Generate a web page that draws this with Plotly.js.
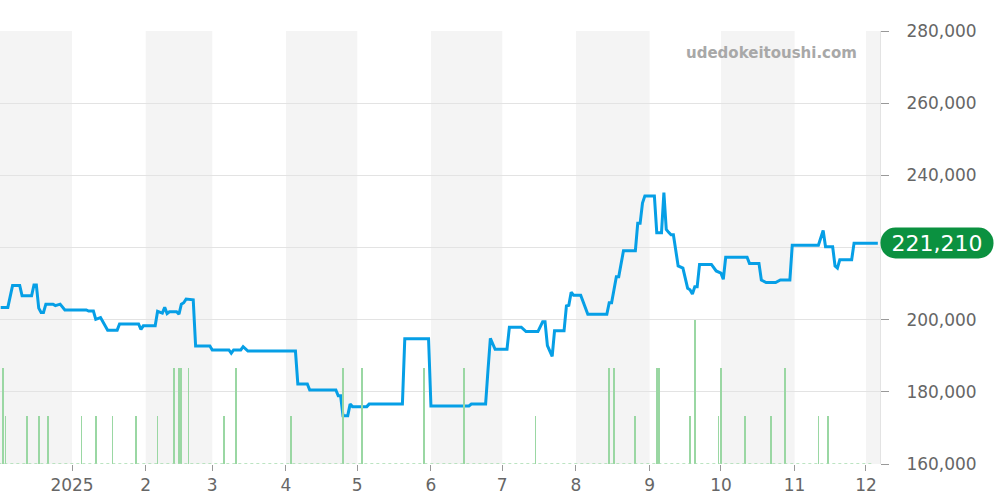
<!DOCTYPE html>
<html>
<head>
<meta charset="utf-8">
<script src="https://cdn.plot.ly/plotly-3.0.1.min.js"></script>
<style>
  html, body { margin: 0; padding: 0; background: #fff; }
  #chart { width: 1000px; height: 500px; }
</style>
</head>
<body>
<div id="chart"></div>
<script>
// ---- data ----
const priceDates = [
  "2024-12-02","2024-12-05","2024-12-07","2024-12-10","2024-12-11","2024-12-15","2024-12-16","2024-12-17",
  "2024-12-18","2024-12-19","2024-12-20","2024-12-21","2024-12-24","2024-12-25","2024-12-27","2024-12-29",
  "2025-01-07","2025-01-08","2025-01-10","2025-01-11","2025-01-13","2025-01-16","2025-01-20","2025-01-21",
  "2025-01-29","2025-01-30","2025-01-31","2025-02-05","2025-02-06","2025-02-08","2025-02-09","2025-02-10",
  "2025-02-11","2025-02-14","2025-02-15","2025-02-16","2025-02-17","2025-02-18","2025-02-21","2025-02-22",
  "2025-02-28","2025-03-01","2025-03-08","2025-03-09","2025-03-10","2025-03-13","2025-03-14","2025-03-16",
  "2025-04-05","2025-04-06","2025-04-10","2025-04-11","2025-04-22","2025-04-23","2025-04-24","2025-04-25",
  "2025-04-27","2025-04-28","2025-04-29","2025-05-05","2025-05-06","2025-05-20","2025-05-21","2025-05-31",
  "2025-06-01","2025-06-17","2025-06-18","2025-06-24","2025-06-25","2025-06-26","2025-06-28","2025-07-03",
  "2025-07-04","2025-07-09","2025-07-11","2025-07-16","2025-07-18","2025-07-19","2025-07-20","2025-07-22",
  "2025-07-23","2025-07-27","2025-07-28","2025-07-29","2025-07-30","2025-07-31","2025-08-03","2025-08-06",
  "2025-08-14","2025-08-15","2025-08-16","2025-08-18","2025-08-19","2025-08-21","2025-08-26","2025-08-27",
  "2025-08-28","2025-08-29","2025-08-30","2025-09-03","2025-09-04","2025-09-06","2025-09-07","2025-09-08",
  "2025-09-09","2025-09-10","2025-09-11","2025-09-13","2025-09-15","2025-09-17","2025-09-18","2025-09-19",
  "2025-09-20","2025-09-21","2025-09-22","2025-09-27","2025-09-29","2025-10-01","2025-10-02","2025-10-03",
  "2025-10-12","2025-10-13","2025-10-17","2025-10-18","2025-10-20","2025-10-24","2025-10-26","2025-10-30",
  "2025-10-31","2025-11-11","2025-11-13","2025-11-14","2025-11-17","2025-11-18","2025-11-19","2025-11-20",
  "2025-11-25","2025-11-26","2025-12-06"
];
const priceValues = [
  203400,203400,209500,209500,206600,206600,209600,209600,
  203200,202000,202000,204300,204300,203900,204300,202700,
  202700,202400,202400,200100,200600,197100,197100,198800,
  198800,197300,198300,198300,202300,201800,203400,201700,
  202200,202200,201500,204300,204700,205700,205500,192700,
  192700,191600,191600,190700,191600,191600,192500,191300,
  191300,182200,182200,180500,180500,178900,178900,173400,
  173400,176600,175900,175900,176600,176600,194700,194700,
  176100,176100,176600,176600,186000,194800,191800,191800,
  197900,197900,196700,196700,199400,199400,192800,189800,
  196900,196900,203800,204000,207600,206800,206800,201500,
  201500,204700,204700,211900,211900,219100,219100,226700,
  226700,232300,234300,234300,224100,224100,235200,225000,
  224200,223500,223500,214900,214300,208700,208300,207100,
  209100,209100,215300,215300,213500,212900,211200,217300,
  217300,215600,215600,211000,210300,210300,211000,211000,
  220600,220600,224700,220200,220200,214900,214300,216600,
  216600,221210,221210
];

const volDates = [
  "2024-12-03","2024-12-04","2024-12-13","2024-12-18","2024-12-22","2025-01-05","2025-01-11","2025-01-18",
  "2025-01-28","2025-02-06","2025-02-13","2025-02-15","2025-02-16","2025-02-19","2025-03-06","2025-03-11",
  "2025-04-03","2025-04-25","2025-05-03","2025-05-29","2025-06-15","2025-07-15","2025-08-15","2025-08-17",
  "2025-08-26","2025-09-04","2025-09-05","2025-09-18","2025-09-20","2025-09-30","2025-10-01","2025-10-11",
  "2025-10-22","2025-10-28","2025-11-11","2025-11-15"
];
const volValues = [
  2,1,1,1,1,1,1,1,
  1,1,2,2,2,2,1,2,
  1,2,2,2,2,1,2,2,
  1,2,2,1,3,1,2,1,
  1,2,1,1
];
const volBaseDates = ["2024-12-01","2025-12-04"];
const volBaseValues = [0, 0];

const monthStarts = [
  "2024-12-01","2025-01-01","2025-02-01","2025-03-01","2025-04-01","2025-05-01","2025-06-01",
  "2025-07-01","2025-08-01","2025-09-01","2025-10-01","2025-11-01","2025-12-01","2026-01-01"
];
const tickDates = [
  "2025-01-01","2025-02-01","2025-03-01","2025-04-01","2025-05-01","2025-06-01",
  "2025-07-01","2025-08-01","2025-09-01","2025-10-01","2025-11-01","2025-12-01"
];
const tickLabels = ["2025","2","3","4","5","6","7","8","9","10","11","12"];
const yTicks = [160000,180000,200000,220000,240000,260000,280000];
// the 220,000 label sits under the current-price badge, as in the original
const yTickLabels = ["160,000","180,000","200,000","","240,000","260,000","280,000"];
const lastPrice = priceValues[priceValues.length - 1];

// ---- build ----
const xRange = ["2024-12-01 17:00", "2025-12-06 22:00"];

const shapes = [];
for (let i = 0; i < monthStarts.length - 1; i++) {
  const m = new Date(monthStarts[i] + "T00:00:00Z").getUTCMonth() + 1;
  if (m % 2 === 0) {
    shapes.push({
      type: "rect", xref: "x", yref: "paper",
      x0: monthStarts[i], x1: monthStarts[i + 1], y0: 0, y1: 1,
      fillcolor: "#f4f4f4", line: { width: 0 }, layer: "below"
    });
  }
}

const traces = [
  {
    x: volBaseDates, y: volBaseValues, yaxis: "y2", type: "scatter", mode: "lines",
    line: { color: "#a6dcae", width: 1.5, dash: "dot" }, hoverinfo: "skip", showlegend: false
  },
  {
    x: volDates, y: volValues, yaxis: "y2", type: "bar",
    width: 0.75 * 86400000,
    marker: { color: "#9ad7a3", line: { width: 0 } },
    showlegend: false
  },
  {
    x: priceDates, y: priceValues, type: "scatter", mode: "lines",
    line: { color: "#069fe6", width: 3, shape: "linear" },
    showlegend: false
  }
];

const layout = {
  width: 1000, height: 500,
  margin: { l: 0, r: 120, t: 31, b: 36 },
  paper_bgcolor: "#ffffff", plot_bgcolor: "rgba(0,0,0,0)",
  font: { family: "DejaVu Sans", color: "#666" },
  showlegend: false,
  bargap: 0,
  xaxis: {
    type: "date", range: xRange,
    tickvals: tickDates, ticktext: tickLabels,
    ticks: "outside", ticklen: 6, tickcolor: "#999", tickwidth: 1,
    showgrid: false, zeroline: false, showline: false,
    tickfont: { size: 17, color: "#666" }
  },
  yaxis: {
    side: "right", range: [160000, 280000],
    tickvals: yTicks, ticktext: yTickLabels,
    ticks: "outside", ticklen: 8, tickcolor: "#999", tickwidth: 1,
    showgrid: true, gridcolor: "#e3e3e3", gridwidth: 1,
    showline: true, linecolor: "#e3e3e3", linewidth: 1,
    zeroline: false,
    ticklabelstandoff: 14,
    tickfont: { size: 17, color: "#666" }
  },
  yaxis2: {
    overlaying: "y", side: "left", range: [0, 9],
    visible: false, showgrid: false, zeroline: false
  },
  shapes: shapes,
  annotations: [
    {
      xref: "paper", yref: "paper", x: 0.976, y: 0.949,
      xanchor: "right", yanchor: "middle", showarrow: false,
      text: "<b>udedokeitoushi.com</b>",
      font: { family: "DejaVu Sans", size: 15, color: "#a8a8a8" }
    },
    {
      xref: "paper", yref: "y", x: 1, y: lastPrice,
      xanchor: "left", yanchor: "middle", showarrow: false,
      text: lastPrice.toLocaleString("en-US"),
      font: { family: "DejaVu Sans", size: 22, color: "#ffffff" },
      bgcolor: "#0b9140", borderpad: 0, width: 112, height: 30, align: "center"
    }
  ]
};

Plotly.newPlot("chart", traces, layout, { displayModeBar: false, staticPlot: true }).then(function () {
  document.querySelectorAll(".annotation rect.bg").forEach(function (r) {
    const fill = r.style.fill || r.getAttribute("fill") || "";
    if (String(fill).indexOf("11, 145, 64") >= 0 || String(fill).toLowerCase().indexOf("0b9140") >= 0) {
      r.setAttribute("rx", 15); r.setAttribute("ry", 15);
    }
  });
});
</script>
</body>
</html>
